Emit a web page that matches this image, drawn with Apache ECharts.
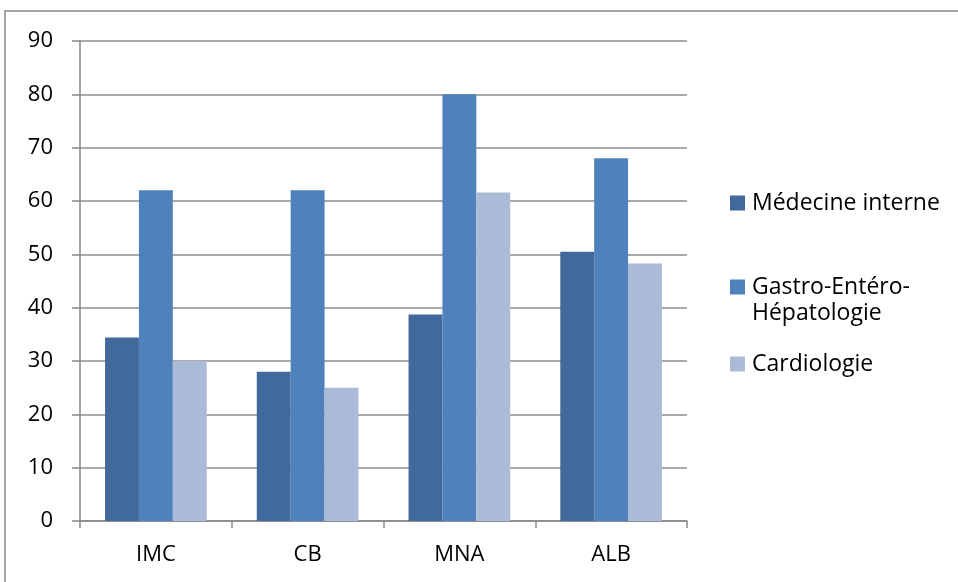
<!DOCTYPE html>
<html>
<head>
<meta charset="utf-8">
<script src="https://cdn.jsdelivr.net/npm/echarts@6/dist/echarts.min.js"></script>
<style>
  html, body { margin: 0; padding: 0; background: #fff; }
  #chart { width: 958px; height: 582px; }
</style>
</head>
<body>
<div id="chart"></div>
<script>
// categories and values
var categories = ['IMC', 'CB', 'MNA', 'ALB']
var medecineInterne = [34.4, 28, 38.7, 50.5]
var gastroEntero = [62, 62, 80, 68]
var cardiologie = [30, 25, 61.6, 48.3]
var yTicks = { min: 0, max: 90, interval: 10 }

var seriesNames = ['Médecine interne', 'Gastro-Entéro-Hépatologie', 'Cardiologie']
var colors = ['#41699c', '#4f81bd', '#aabad7']
var font = '"Open Sans", Lato, sans-serif'

var chart = echarts.init(document.getElementById('chart'))

// one legend per item so the two-line label keeps its icon on the first line
function legendFor(name, top, fmt) {
  return {
    data: [name],
    left: 730,
    top: top,
    icon: 'rect',
    itemWidth: 15,
    itemHeight: 15,
    itemGap: 0,
    padding: 0,
    selectedMode: false,
    formatter: fmt || '{name}',
    textStyle: {
      fontFamily: font,
      fontSize: 23,
      lineHeight: 26,
      color: '#000',
      padding: [0, 0, 0, 2]
    }
  }
}

var option = {
  animation: false,
  color: colors,
  textStyle: { fontFamily: font },
  graphic: [{
    type: 'rect',
    shape: { x: 5, y: 11, width: 1200, height: 1200 },
    style: { fill: 'none', stroke: '#8a8a8a', lineWidth: 1.5 },
    silent: true
  }],
  grid: {
    left: 80,
    right: 271,
    top: 41,
    bottom: 61
  },
  legend: [
    legendFor(seriesNames[0], 190),
    legendFor(seriesNames[1], 248, function() { return '\nGastro-Entéro-\nHépatologie' }),
    legendFor(seriesNames[2], 351)
  ],
  xAxis: {
    type: 'category',
    data: categories,
    axisLine: { lineStyle: { color: '#888', width: 1.5 } },
    axisTick: { show: true, length: 7, interval: 0, lineStyle: { color: '#888', width: 1.5 } },
    axisLabel: { color: '#000', fontSize: 22, fontFamily: font, margin: 23 }
  },
  yAxis: {
    type: 'value',
    min: yTicks.min,
    max: yTicks.max,
    interval: yTicks.interval,
    axisLine: { show: true, lineStyle: { color: '#888', width: 1.5 } },
    axisTick: { show: true, length: 8, lineStyle: { color: '#888', width: 1.5 } },
    axisLabel: { color: '#000', fontSize: 22, fontFamily: font, margin: 27 },
    splitLine: { show: true, lineStyle: { color: '#8e8e8e', width: 1.5 } }
  },
  series: [
    { name: seriesNames[0], type: 'bar', data: medecineInterne, barGap: '0%', barCategoryGap: '33%' },
    { name: seriesNames[1], type: 'bar', data: gastroEntero, barGap: '0%', barCategoryGap: '33%' },
    { name: seriesNames[2], type: 'bar', data: cardiologie, barGap: '0%', barCategoryGap: '33%' }
  ]
}

chart.setOption(option)
</script>
</body>
</html>
